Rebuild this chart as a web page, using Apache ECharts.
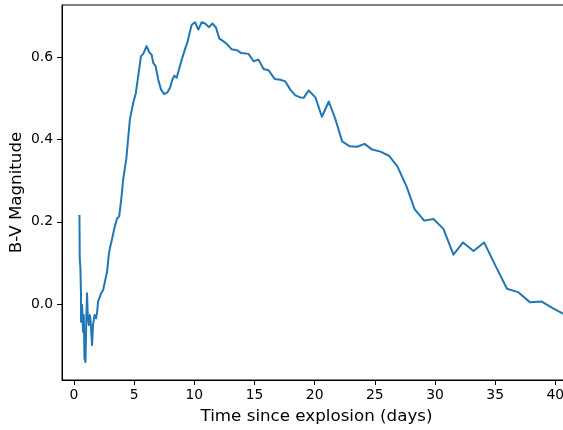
<!DOCTYPE html>
<html>
<head>
<meta charset="utf-8">
<script src="https://cdn.jsdelivr.net/npm/echarts@6/dist/echarts.min.js"></script>
<style>
  html, body { margin: 0; padding: 0; background: #fff; }
  #chart { width: 563px; height: 430px; }
</style>
</head>
<body>
<div id="chart"></div>
<script>
// days since explosion and B-V colour
var days = [0.45, 0.475, 0.53, 0.58, 0.58, 0.67, 0.75, 0.81, 0.87, 0.95, 1.03, 1.08, 1.14, 1.23, 1.31, 1.36,
  1.5, 1.58, 1.7, 1.83, 1.92, 2.0, 2.14, 2.25, 2.42, 2.56, 2.75, 2.89, 2.98, 3.2, 3.39, 3.58, 3.75, 3.95,
  4.08, 4.35, 4.64, 4.92, 5.14, 5.33, 5.56, 5.75, 6.03, 6.25, 6.45, 6.58, 6.78, 7.0, 7.23, 7.5, 7.75, 7.97,
  8.17, 8.33, 8.53, 8.72, 8.95, 9.22, 9.45, 9.64, 9.78, 10.06, 10.33, 10.61, 10.89, 11.22, 11.5, 11.8,
  12.08, 12.4, 12.7, 13.1, 13.53, 13.9, 14.5, 14.92, 15.33, 15.75, 16.17, 16.67, 17.14, 17.56, 17.97,
  18.39, 18.81, 19.08, 19.5, 20.06, 20.6, 21.17, 21.72, 22.28, 22.92, 23.53, 24.14, 24.78, 25.47, 26.17,
  26.87, 27.64, 28.3, 29.1, 29.87, 30.7, 31.53, 32.33, 33.2, 34.08, 35.06, 35.98, 36.9, 37.9, 38.87,
  39.78, 40.73, 41.6];
var bv = [0.217, 0.111, 0.087, 0.022, -0.043, -0.002, -0.068, -0.027, -0.132, -0.141, -0.027, 0.026,
  -0.027, -0.051, -0.027, -0.035, -0.1, -0.051, -0.027, -0.035, -0.019, 0.006, 0.01, 0.026, 0.034, 0.054,
  0.079, 0.12, 0.136, 0.164, 0.189, 0.209, 0.213, 0.262, 0.302, 0.355, 0.449, 0.49, 0.514, 0.554, 0.603,
  0.609, 0.628, 0.613, 0.607, 0.587, 0.579, 0.546, 0.522, 0.511, 0.515, 0.526, 0.546, 0.556, 0.551, 0.571,
  0.595, 0.62, 0.64, 0.664, 0.68, 0.686, 0.668, 0.686, 0.683, 0.674, 0.683, 0.673, 0.646, 0.64, 0.633,
  0.62, 0.618, 0.611, 0.609, 0.591, 0.595, 0.572, 0.569, 0.548, 0.546, 0.542, 0.522, 0.508, 0.503, 0.502,
  0.52, 0.503, 0.456, 0.493, 0.45, 0.396, 0.384, 0.383, 0.39, 0.376, 0.371, 0.361, 0.335, 0.286, 0.231,
  0.203, 0.207, 0.183, 0.12, 0.15, 0.129, 0.15, 0.091, 0.037, 0.029, 0.004, 0.006, -0.01, -0.025, -0.04];
var xTicks = [0, 5, 10, 15, 20, 25, 30, 35, 40];
var yTicks = [0, 0.2, 0.4, 0.6];

var chart = echarts.init(document.getElementById('chart'));
var pts = [];
for (var i = 0; i < days.length; i++) pts.push([days[i], bv[i]]);

var font = 'DejaVu Sans';
var option = {
  animation: false,
  grid: { left: 62, top: 5, right: -8, bottom: 50, outerBoundsMode: 'none',
    show: true, borderColor: '#000', borderWidth: 1 },
  xAxis: {
    type: 'value', min: -1.0, max: 41.3,
    name: 'Time since explosion (days)', nameLocation: 'middle', nameGap: 28, nameMoveOverlap: false,
    nameTextStyle: { fontFamily: font, fontSize: 16.7, color: '#000' },
    splitLine: { show: false },
    axisLine: { onZero: false, lineStyle: { color: '#000', width: 1 } },
    axisTick: { customValues: xTicks, length: 5, lineStyle: { color: '#000' } },
    axisLabel: { customValues: xTicks, margin: 8, fontFamily: font, fontSize: 13.9, color: '#000' }
  },
  yAxis: {
    type: 'value', min: -0.185, max: 0.728,
    name: 'B-V Magnitude', nameLocation: 'middle', nameGap: 37, nameMoveOverlap: false,
    nameTextStyle: { fontFamily: font, fontSize: 16.7, color: '#000' },
    splitLine: { show: false },
    axisLine: { show: true, onZero: false, lineStyle: { color: '#000', width: 1 } },
    axisTick: { show: true, customValues: yTicks, length: 5, lineStyle: { color: '#000' } },
    axisLabel: { customValues: yTicks, margin: 9, fontFamily: font, fontSize: 13.9, color: '#000',
      formatter: function (v) { return v.toFixed(1); } }
  },
  series: [{
    type: 'line', data: pts, showSymbol: false, clip: true,
    lineStyle: { color: '#1f77b4', width: 2, join: 'round' }
  }]
};
chart.setOption(option);
</script>
</body>
</html>
